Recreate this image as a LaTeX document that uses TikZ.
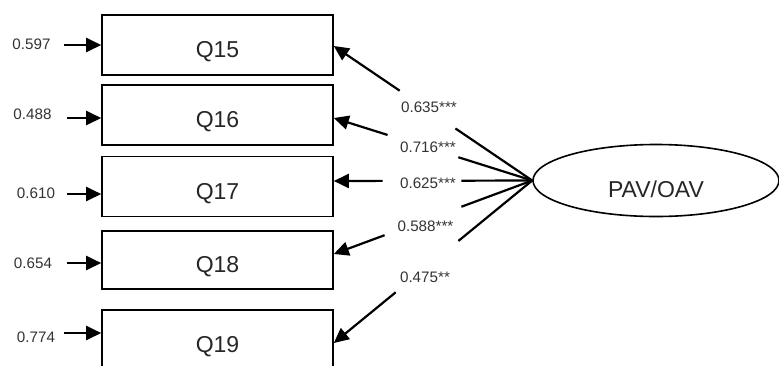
\documentclass[tikz,border=0pt]{standalone}
\usepackage{fontspec}
\setmainfont{Liberation Sans}
\usetikzlibrary{arrows.meta,shapes.geometric,calc}
\begin{document}
\begin{tikzpicture}[x=1pt,y=-1pt,
  qbox/.style={draw, line width=1.6pt, minimum width=231pt, minimum height=60pt, inner sep=0pt},
  qtext/.style={font=\fontsize{23}{23}\selectfont, text=black!85, yshift=-7pt},
  coef/.style={font=\fontsize{15.2}{15.2}\selectfont, text=black!80, inner sep=0pt},
  link/.style={line width=2.2pt},
  arr/.style={line width=2.2pt, -{Triangle[length=15pt,width=14pt]}}]
\useasboundingbox (0,0) rectangle (779,365);

% observed indicators
\node[qbox, label={[qtext]center:Q15}] (q15) at (217.5,45) {};
\node[qbox, label={[qtext]center:Q16}] (q16) at (217.5,115) {};
\node[qbox, label={[qtext]center:Q17}] (q17) at (217.5,186.5) {};
\node[qbox, minimum height=58pt, label={[qtext]center:Q18}] (q18) at (217.5,260) {};
\node[qbox, label={[qtext]center:Q19}] (q19) at (217.5,340) {};

% latent construct
\node[draw, ellipse, line width=1.6pt, minimum width=246pt, minimum height=72pt, inner sep=0pt,
      label={[qtext, yshift=-1.5pt]center:PAV/OAV}] (pav) at (656,180.5) {};

% arrow tips on the indicator boxes
\coordinate (t15) at ($(q15.east)+(0,1)$);
\coordinate (t16) at ($(q16.east)+(0,3)$);
\coordinate (t17) at ($(q17.east)+(0,-5.5)$);
\coordinate (t18) at ($(q18.east)+(0,-6)$);
\coordinate (t19) at ($(q19.east)+(0,3)$);

% factor loadings, each path broken around its coefficient
\foreach \t/\a/\b in {t15/0.387/0.668, t16/0.372/0.729, t17/0.357/0.754, t18/0.357/0.744, t19/0.372/0.688} {
  \draw[link] (pav.west) -- ($(pav.west)!\a!(\t)$);
  \draw[arr] ($(pav.west)!\b!(\t)$) -- (\t);
}

\node[coef] (c15) at (429,107) {0.635***};
\node[coef] (c16) at (428,147) {0.716***};
\node[coef] (c17) at (428,183) {0.625***};
\node[coef] (c18) at (425.5,226) {0.588***};
\node[coef] (c19) at (425,277) {0.475**};

% error terms
\node[coef] (e15) at (31.5,44) {0.597};
\node[coef] (e16) at (32.5,114) {0.488};
\node[coef] (e17) at (36,193) {0.610};
\node[coef] (e18) at (33,263) {0.654};
\node[coef] (e19) at (36,337) {0.774};

\coordinate (s15) at (64,45);
\coordinate (s16) at (67,118);
\coordinate (s17) at (67,194);
\coordinate (s18) at (67,263);
\coordinate (s19) at (64,333);
\foreach \s/\q in {s15/q15, s16/q16, s17/q17, s18/q18, s19/q19}
  \draw[arr] (\s) -- (\s -| \q.west);
\end{tikzpicture}
\end{document}
